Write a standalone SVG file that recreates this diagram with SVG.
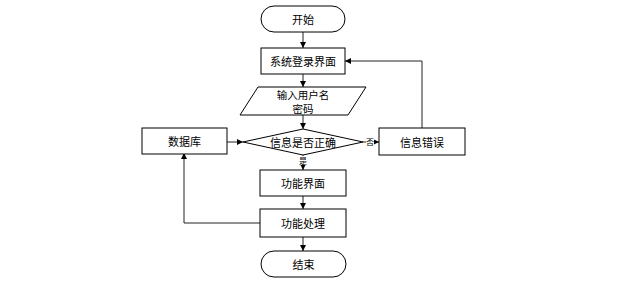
<svg xmlns="http://www.w3.org/2000/svg" width="619" height="285" viewBox="0 0 619 285">
<style>
.s{fill:#fff;stroke:#000;stroke-width:1}
.c{fill:none;stroke:#222;stroke-width:1}
.t{font-family:"Noto Sans CJK SC","Noto Sans CJK TC",sans-serif;font-size:11px;fill:#000;text-anchor:middle;dominant-baseline:central}
.l{font-family:"Noto Sans CJK SC",sans-serif;font-size:8px;fill:#000;text-anchor:middle;dominant-baseline:central}
.b{fill:#fff;stroke:none}
</style>
<defs>
<marker id="a" markerWidth="6" markerHeight="6" refX="6" refY="3" orient="auto" markerUnits="userSpaceOnUse">
<path d="M0,0 L6,3 L0,6 Z" fill="#000"/>
</marker>
</defs>
<rect width="619" height="285" fill="#fff"/>
<g id="connectors">
<line class="c" x1="303" y1="32" x2="303" y2="48" marker-end="url(#a)"/>
<line class="c" x1="303" y1="74" x2="303" y2="87" marker-end="url(#a)"/>
<line class="c" x1="303" y1="115" x2="303" y2="129" marker-end="url(#a)"/>
<line class="c" x1="227" y1="142" x2="243" y2="142" marker-end="url(#a)"/>
<line class="c" x1="363" y1="142" x2="379" y2="142" marker-end="url(#a)"/>
<polyline class="c" points="422,128 422,61 345,61" marker-end="url(#a)"/>
<line class="c" x1="303" y1="155" x2="303" y2="170" marker-end="url(#a)"/>
<line class="c" x1="303" y1="196" x2="303" y2="209" marker-end="url(#a)"/>
<polyline class="c" points="260,223 184,223 184,153" marker-end="url(#a)"/>
<line class="c" x1="303" y1="237" x2="303" y2="251" marker-end="url(#a)"/>
<rect class="b" x="366" y="137" width="8" height="9"/>
<text class="l" x="370" y="141.5">否</text>
<rect class="b" x="299" y="156" width="8" height="9"/>
<text class="l" x="303" y="160.5">是</text>
</g>
<g id="start">
<rect class="s" x="261" y="6" width="84" height="26" rx="13"/>
<text class="t" x="303" y="19">开始</text>
</g>
<g id="login">
<rect class="s" x="261" y="48" width="84" height="26"/>
<text class="t" x="303" y="61">系统登录界面</text>
</g>
<g id="input">
<polygon class="s" points="258,87 366,87 348,115 240,115"/>
<text class="t" x="303" y="94" style="font-size:10.5px">输入用户名</text>
<text class="t" x="303" y="108.5" style="font-size:10.5px">密码</text>
</g>
<g id="check">
<polygon class="s" points="303,129 363,142 303,155 243,142"/>
<text class="t" x="303" y="142">信息是否正确</text>
</g>
<g id="db">
<rect class="s" x="142" y="128" width="85" height="26"/>
<text class="t" x="184.5" y="141">数据库</text>
</g>
<g id="error">
<rect class="s" x="379" y="128" width="86" height="27"/>
<text class="t" x="422" y="141.5">信息错误</text>
</g>
<g id="func">
<rect class="s" x="260" y="170" width="86" height="26"/>
<text class="t" x="303" y="183">功能界面</text>
</g>
<g id="process">
<rect class="s" x="260" y="209" width="86" height="28"/>
<text class="t" x="303" y="223">功能处理</text>
</g>
<g id="end">
<rect class="s" x="261" y="251" width="85" height="26" rx="13"/>
<text class="t" x="303.5" y="264">结束</text>
</g>
</svg>
